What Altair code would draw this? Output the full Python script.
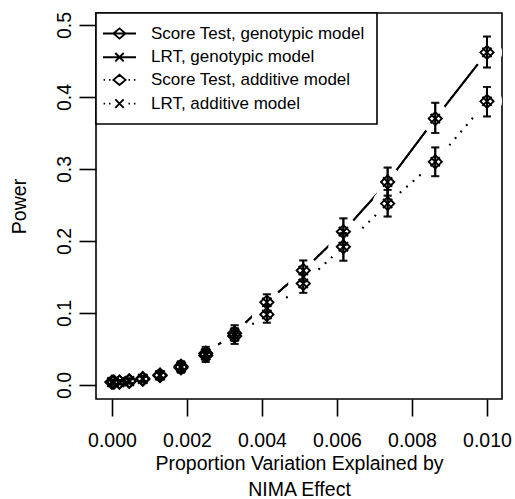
import altair as alt
import pandas as pd

# Proportion of variation explained by the NIMA effect (x positions of the simulations)
effect = [0.0, 0.00005, 0.0002, 0.00046, 0.00082, 0.00128, 0.00184, 0.0025,
          0.00327, 0.00413, 0.0051, 0.00617, 0.00735, 0.00862, 0.01]

# Estimated power with 95% interval, genotypic model
geno_score = [0.004, 0.004, 0.004, 0.006, 0.009, 0.014, 0.026, 0.044,
              0.072, 0.115, 0.159, 0.213, 0.282, 0.370, 0.462]
geno_score_lo = [0.001, 0.001, 0.001, 0.0025, 0.005, 0.009, 0.019, 0.035,
                 0.061, 0.102, 0.144, 0.195, 0.263, 0.350, 0.441]
geno_score_hi = [0.007, 0.007, 0.007, 0.0095, 0.013, 0.019, 0.033, 0.053,
                 0.083, 0.126, 0.173, 0.2315, 0.302, 0.392, 0.484]
geno_lrt = [0.004, 0.004, 0.004, 0.006, 0.009, 0.014, 0.026, 0.044,
            0.072, 0.115, 0.159, 0.213, 0.282, 0.370, 0.462]
geno_lrt_lo = [0.001, 0.001, 0.001, 0.0025, 0.005, 0.009, 0.019, 0.035,
               0.061, 0.102, 0.144, 0.195, 0.263, 0.350, 0.441]
geno_lrt_hi = [0.007, 0.007, 0.007, 0.0095, 0.013, 0.019, 0.033, 0.053,
               0.083, 0.126, 0.173, 0.2315, 0.302, 0.392, 0.484]

# Estimated power with 95% interval, additive model
add_score = [0.004, 0.004, 0.004, 0.005, 0.008, 0.013, 0.024, 0.041,
             0.068, 0.098, 0.141, 0.192, 0.252, 0.310, 0.394]
add_score_lo = [0.001, 0.001, 0.001, 0.002, 0.004, 0.008, 0.017, 0.032,
                0.057, 0.0865, 0.128, 0.1726, 0.234, 0.290, 0.373]
add_score_hi = [0.007, 0.007, 0.007, 0.008, 0.012, 0.018, 0.031, 0.050,
                0.079, 0.110, 0.154, 0.211, 0.271, 0.330, 0.414]
add_lrt = [0.004, 0.004, 0.004, 0.005, 0.008, 0.013, 0.024, 0.041,
           0.068, 0.098, 0.141, 0.192, 0.252, 0.310, 0.394]
add_lrt_lo = [0.001, 0.001, 0.001, 0.002, 0.004, 0.008, 0.017, 0.032,
              0.057, 0.0865, 0.128, 0.1726, 0.234, 0.290, 0.373]
add_lrt_hi = [0.007, 0.007, 0.007, 0.008, 0.012, 0.018, 0.031, 0.050,
              0.079, 0.110, 0.154, 0.211, 0.271, 0.330, 0.414]

x_ticks = [0.0, 0.002, 0.004, 0.006, 0.008, 0.010]
y_ticks = [0.0, 0.1, 0.2, 0.3, 0.4, 0.5]

legend_labels = ["Score Test, genotypic model", "LRT, genotypic model",
                 "Score Test, additive model", "LRT, additive model"]

FONT = "Liberation Sans"
LW = 1.6      # frame and ticks
MW = 1.9      # data lines, error bars and symbols

rows = []
for test, model, p, lo, hi in [
    ("Score Test", "genotypic", geno_score, geno_score_lo, geno_score_hi),
    ("LRT", "genotypic", geno_lrt, geno_lrt_lo, geno_lrt_hi),
    ("Score Test", "additive", add_score, add_score_lo, add_score_hi),
    ("LRT", "additive", add_lrt, add_lrt_lo, add_lrt_hi),
]:
    for xv, pv, l, h in zip(effect, p, lo, hi):
        rows.append({"effect": xv, "power": pv, "lo": l, "hi": h,
                     "test": test, "model": model, "series": test + " " + model})
df = pd.DataFrame(rows)

x_scale = alt.Scale(domain=[-0.000427, 0.0104], nice=False, zero=False)
y_scale = alt.Scale(domain=[-0.01944, 0.5167], nice=False, zero=False)

x_enc = alt.X("effect:Q", scale=x_scale, axis=alt.Axis(
    values=x_ticks, format=".3f", title=["Proportion Variation Explained by", "NIMA Effect"],
    labelFontSize=19.5, labelPadding=15.5, tickSize=17,
    titleFontSize=19.5, titleFontWeight="normal", titleLineHeight=26,
    titleBaseline="top", titleY=55, titleX=203, titleAlign="center"))
y_enc = alt.Y("power:Q", scale=y_scale, axis=alt.Axis(
    values=y_ticks, format=".1f", title="Power",
    labelFontSize=19.5, labelAngle=270, labelAlign="center", labelBaseline="bottom",
    labelPadding=5, tickSize=17,
    titleFontSize=19.5, titleFontWeight="normal", titleAngle=270,
    titleAlign="center", titleBaseline="middle", titleX=-77, titleY=193))

base = alt.Chart(df)

# connecting lines: solid for genotypic, dotted for additive
lines = base.mark_line(color="black", strokeWidth=MW).encode(
    x=x_enc, y=y_enc,
    detail="series:N",
    strokeDash=alt.StrokeDash("model:N", scale=alt.Scale(
        domain=["genotypic", "additive"], range=[[1, 0], [1.6, 7]]), legend=None),
)

# white discs break the lines around each point (R's type = "b")
gaps = base.mark_circle(color="white", opacity=1, size=880).encode(x="effect:Q", y="power:Q")

bars = base.mark_rule(color="black", strokeWidth=MW).encode(
    x="effect:Q", y="lo:Q", y2="hi:Q")
caps_lo = base.mark_tick(color="black", orient="horizontal", size=8, thickness=MW).encode(
    x="effect:Q", y="lo:Q")
caps_hi = base.mark_tick(color="black", orient="horizontal", size=8, thickness=MW).encode(
    x="effect:Q", y="hi:Q")

diamonds = base.transform_filter(alt.datum.test == "Score Test").mark_point(
    shape="diamond", filled=False, color="black", size=175, strokeWidth=MW, opacity=1
).encode(x="effect:Q", y="power:Q")
crosses = base.transform_filter(alt.datum.test == "LRT").mark_point(
    shape="M-1,-1L1,1M-1,1L1,-1", filled=False, color="black", size=85,
    strokeWidth=MW, opacity=1
).encode(x="effect:Q", y="power:Q")

# legend symbols: line sample with the plotting symbol on it
legend_paths = [
    "M-2.75,0L2.75,0M-1,0L0,-0.85L1,0L0,0.85Z",
    "M-2.75,0L2.75,0M-0.7,-0.7L0.7,0.7M-0.7,0.7L0.7,-0.7",
    "M-2.65,0L-2.4,0M-1.75,0L-1.5,0M1.5,0L1.75,0M2.4,0L2.65,0M-1,0L0,-0.85L1,0L0,0.85Z",
    "M-2.65,0L-2.4,0M-1.75,0L-1.5,0M1.5,0L1.75,0M2.4,0L2.65,0M-0.7,-0.7L0.7,0.7M-0.7,0.7L0.7,-0.7",
]
legend_df = pd.DataFrame({"entry": legend_labels})
legend_layer = alt.Chart(legend_df).transform_filter("false").mark_point(
    filled=False, color="black", size=144, strokeWidth=MW, opacity=1
).encode(
    shape=alt.Shape("entry:N", scale=alt.Scale(domain=legend_labels, range=legend_paths),
                    legend=alt.Legend(
                        title=None, orient="top-left", offset=0, padding=12,
                        rowPadding=4.7, symbolSize=144, symbolStrokeWidth=MW,
                        symbolOffset=3, labelOffset=23, labelFontSize=17,
                        labelFont=FONT, labelColor="black", labelLimit=400,
                        strokeColor="black", fillColor="white")),
)

chart = alt.layer(lines, gaps, bars, caps_lo, caps_hi, diamonds, crosses, legend_layer).properties(
    width=406, height=386,
    autosize=alt.AutoSizeParams(type="none"),
    padding={"left": 96, "top": 13, "right": 13, "bottom": 100},
    background="white",
).configure_view(
    stroke="black", strokeWidth=LW
).configure_axis(
    domain=False, grid=False, tickColor="black", tickWidth=LW,
    labelColor="black", titleColor="black", labelFont=FONT, titleFont=FONT,
    zindex=1
).configure_legend(
    strokeWidth=LW
)

chart.save("out.html", embed_options={"renderer": "svg", "actions": False})
